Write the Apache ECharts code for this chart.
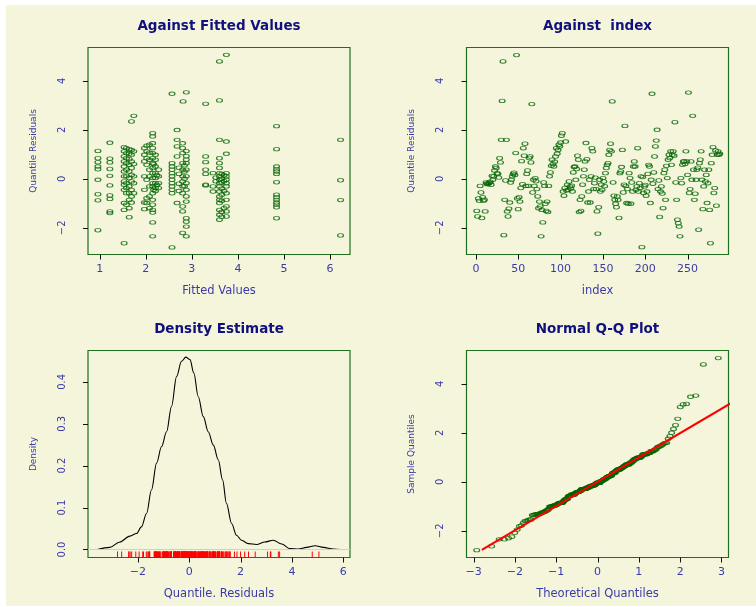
<!DOCTYPE html>
<html><head><meta charset="utf-8">
<script src="https://cdn.jsdelivr.net/npm/echarts@6/dist/echarts.min.js"></script>
<style>
html,body{margin:0;padding:0;background:#ffffff;}
#bg{position:absolute;left:6px;top:5px;width:750px;height:601px;background:#F5F5DC;}
#chart{position:absolute;left:0;top:0;width:756px;height:607px;}
</style>
</head><body><div id="bg"></div><div id="chart"></div>
<script>
// ---------------- data ----------------
// quantile residuals in index order
const residuals = [
-1.31,-1.54,-0.80,-0.90,-0.29,-0.56,-1.60,-0.75,-0.90,-0.85,
-1.33,-0.15,-0.20,-0.22,-0.18,-0.16,-0.12,
-0.24,0.12,-0.04,0.10,0.34,0.50,0.44,0.23,0.20,0.05,
0.84,0.67,1.59,3.18,4.79,-2.30,-0.86,-0.07,1.59,-1.33,-1.54,-1.22,-0.97,-0.15,-0.04,0.10,0.20,0.25,
0.16,1.05,5.05,-0.80,-1.24,-0.75,-0.93,-0.38,0.72,-0.22,1.25,0.94,1.43,-0.29,0.20,0.34,-0.29,0.85,
0.91,0.67,3.05,-0.56,-0.04,-0.29,0.03,-0.10,
-0.42,-0.72,-1.20,-0.93,-1.13,-2.35,-1.27,-1.78,-0.15,-0.29,-1.02,-1.31,-0.93,-1.36,-0.29,0.10,0.26,0.53,0.78,0.60,0.50,0.70,
0.91,1.25,1.02,1.18,1.39,1.32,1.48,1.76,1.86,-0.52,-0.69,-0.38,1.52,-0.48,-0.24,-0.45,-0.11,-0.31,-0.40,-0.28,
-0.52,0.26,0.48,0.50,-0.04,0.40,
0.94,0.78,-1.36,-0.86,-1.31,-0.72,-0.24,0.10,0.37,0.71,1.46,0.80,-0.97,-0.52,-0.04,-0.97,0.10,1.25,1.12,-0.42,-0.18,0.05,-0.42,-1.33,-2.24,-1.16,-0.04,-0.52,-0.24,-0.45,0.03,-0.11,-0.30,
0.23,0.44,0.57,0.64,0.98,1.18,1.43,1.12,3.16,-0.15,-0.69,-0.86,-1.02,-1.16,-0.72,-0.86,-1.60,0.23,0.30,0.48,1.18,-0.56,-0.24,2.16,-0.29,-0.99,-0.42,-1.02,0.23,0.03,-1.02,-0.15,-0.52,0.50,0.71,0.50,-0.45,
-0.31,1.25,-0.52,-0.18,-0.38,0.10,-2.79,0.07,-0.58,-0.31,-0.25,
-0.69,-0.52,0.20,0.57,0.50,-0.99,-0.04,3.47,-0.20,0.26,0.91,1.32,1.56,2.00,-0.42,-0.07,-1.56,-0.52,-0.31,-0.60,
-1.20,0.23,0.37,-0.86,0.53,0.03,0.78,0.98,0.85,
1.12,0.57,0.98,1.12,0.94,2.31,-0.15,-0.86,-1.67,-1.81,-1.95,-2.35,0.03,-0.18,0.57,0.71,0.71,0.60,
1.12,0.71,0.16,3.52,-0.58,-0.42,0.71,-0.04,2.57,0.37,-0.86,-0.61,-0.04,0.37,0.45,
-2.08,0.64,0.78,1.12,-0.04,-1.24,-0.31,0.37,-0.11,0.16,-0.99,-0.18,0.37,-1.27,-2.63,0.64,0.98,1.29,-0.58,-0.38,1.16,-1.10,0.98,1.12,0.98,1.02
];

// residuals against fitted values, grouped by fitted value
const fitLevels = [0.96, 1.22, 1.53, 1.58, 1.64, 1.69, 1.74, 1.97, 2.02, 2.08, 2.15, 2.21, 2.28, 2.17, 2.24,
  2.57, 2.68, 2.72, 2.81, 2.80, 2.84, 2.88, 3.30, 3.46, 3.52, 3.60, 3.65, 3.70, 3.75, 4.84, 6.23];
const fitGroups = [
  [1.14,0.84,0.68,0.50,0.39,-0.04,-0.63,-0.88,-2.10],
  [1.47,0.82,0.67,0.40,0.12,-0.27,-0.68,-0.82,-1.33,-1.40],
  [1.29,1.12,0.91,0.71,0.50,0.30,0.10,-0.11,-0.24,-0.45,-0.99,-1.27,-2.63],
  [1.25,1.05,0.84,0.64,0.37,0.10,-0.18,-0.38,-0.59,-1.06],
  [1.21,1.02,0.80,0.57,0.30,0.03,-0.31,-0.59,-0.86,-1.20,-1.57],
  [2.34,1.18,0.98,0.71,0.44,0.16,-0.11,-0.45,-0.72,-0.97],
  [2.57,1.12,0.60,0.10,-0.18,-0.59],
  [1.25,0.98,0.71,0.10,-0.45,-0.97,-1.24],
  [1.35,1.12,0.84,0.57,-0.04,-0.79,-0.99],
  [1.39,1.07,0.78,0.37,0.10,-0.31,-0.72,-1.20],
  [1.86,1.73,1.45,1.25,1.05,0.84,0.64,0.44,0.23,0.03,-0.18,-0.31,-0.59,-0.86,-1.06,-1.27,-1.38,-1.78,-2.35],
  [0.98,0.78,0.50,0.23,0.03,-0.18,-0.38,-0.50],
  [0.37,0.10,-0.18,-0.38],
  [-0.45,0.60],
  [0.15,-0.25],
  [3.47,0.64,0.50,0.37,0.23,0.10,-0.04,-0.18,-0.31,-0.45,-0.59,-2.80],
  [1.99,1.59,1.32,0.91,-0.99],
  [0.20,-0.20,0.45,-0.50],
  [3.16],
  [1.45,1.25,1.05,0.64,0.37,0.10,-0.11,-0.31,-0.59,-1.13,-1.33,-2.21],
  [0.00,0.30,-0.30,0.55],
  [3.53,1.13,0.92,0.78,0.64,0.37,0.10,-0.18,-0.45,-0.72,-0.93,-1.61,-1.75,-1.95,-2.35],
  [3.06,0.91,0.68,0.37,0.20,-0.24,-0.27],
  [0.23,-0.31,-0.52],
  [0.05,-0.10],
  [4.79,3.20,1.59,0.84,0.64,0.44,0.23,0.10,-0.04,-0.18,-0.31,-0.52,-0.72,-0.86,-0.99,-1.27,-1.47,-1.67],
  [0.20,0.00,-0.15,-0.40,-0.65,-0.90,-1.35,-1.55],
  [0.15,-0.10,-0.50,-1.20],
  [5.06,1.52,1.02,0.23,0.10,-0.04,-0.18,-0.31,-0.59,-0.86,-1.13,-1.33,-1.54],
  [2.15,1.21,0.50,0.39,0.30,0.20,-0.14,-0.65,-0.75,-0.86,-0.97,-1.06,-1.16,-1.61],
  [1.59,-0.06,-0.87,-2.31]
];

// kernel density estimate curve
const densX = [-3.58,-3.09,-2.70,-2.31,-2.05,-1.86,-1.66,-1.47,-1.27,-1.08,-0.88,-0.69,-0.49,-0.30,-0.13,0.03,0.18,0.35,0.55,0.74,0.94,1.13,1.30,1.45,1.65,1.84,2.04,2.30,2.62,2.95,3.27,3.60,3.92,4.25,4.57,4.90,5.22,5.61,5.87];
const densY = [0.000,0.005,0.018,0.032,0.038,0.054,0.086,0.142,0.206,0.245,0.281,0.341,0.413,0.449,0.459,0.453,0.421,0.365,0.317,0.281,0.249,0.214,0.166,0.110,0.062,0.034,0.022,0.014,0.012,0.018,0.022,0.013,0.002,0.001,0.005,0.009,0.005,0.001,0.000];

// reference line of the Q-Q plot (end points)
const qqLineX = [-2.80, 3.30];
const qqLineY = [-2.78, 3.28];

// tick labels
const ticksFit = [1,2,3,4,5,6];
const ticksIdx = [0,50,100,150,200,250];
const ticksRes = [-2,0,2,4];
const ticksDensX = [-2,0,2,4,6];
const ticksDensY = [0,0.1,0.2,0.3,0.4];
const ticksTheo = [-3,-2,-1,0,1,2,3];

// ---------------- helpers ----------------
function qnorm(p){
  const a=[-3.969683028665376e+01,2.209460984245205e+02,-2.759285104469687e+02,1.383577518672690e+02,-3.066479806614716e+01,2.506628277459239e+00];
  const b=[-5.447609879822406e+01,1.615858368580409e+02,-1.556989798598866e+02,6.680131188771972e+01,-1.328068155288572e+01];
  const c=[-7.784894002430293e-03,-3.223964580411365e-01,-2.400758277161838e+00,-2.549732539343734e+00,4.374664141464968e+00,2.938163982698783e+00];
  const d=[7.784695709041462e-03,3.224671290700398e-01,2.445134137142996e+00,3.754408661907416e+00];
  const pl=0.02425, ph=1-pl; let q, r;
  if(p<pl){q=Math.sqrt(-2*Math.log(p));return (((((c[0]*q+c[1])*q+c[2])*q+c[3])*q+c[4])*q+c[5])/((((d[0]*q+d[1])*q+d[2])*q+d[3])*q+1);}
  if(p>ph){q=Math.sqrt(-2*Math.log(1-p));return -(((((c[0]*q+c[1])*q+c[2])*q+c[3])*q+c[4])*q+c[5])/((((d[0]*q+d[1])*q+d[2])*q+d[3])*q+1);}
  q=p-0.5; r=q*q;
  return (((((a[0]*r+a[1])*r+a[2])*r+a[3])*r+a[4])*r+a[5])*q/(((((b[0]*r+b[1])*r+b[2])*r+b[3])*r+b[4])*r+1);
}
const N = residuals.length;
const idxData = residuals.map((r,i)=>[i+1, r]);
const fitData = [];
fitLevels.forEach((x,g)=>fitGroups[g].forEach(r=>fitData.push([x, r])));
const sorted = residuals.slice().sort((a,b)=>a-b);
const aPP = N <= 10 ? 3/8 : 0.5;
const qqData = sorted.map((r,i)=>[qnorm((i+1-aPP)/(N+1-2*aPP)), r]);
const densData = densX.map((x,i)=>[x, densY[i]]);
const rugData = residuals.map(r=>[r, 0]);
const qqLine = qqLineX.map((x,i)=>[x, qqLineY[i]]);

const NAVY='#10107e', BLUE='#3a3aa8', BOX='#1f6f1f', PT='#006400', TICK='#111111';
const FONT='DejaVu Sans';
const fmtMinus = v => String(v).replace('-', '\u2212');
const fmt1 = v => v.toFixed(1);
const ELLIPSE = 'path://M0,5A5,5,0,1,1,10,5A5,5,0,1,1,0,5Z';
const AXLINE = {show:false, onZero:false};

const RES_MIN=-3.09, RES_MAX=5.36;
const DENS_MIN=-0.0191, DENS_MAX=0.4748;
const X_LIM = [[0.745, 6.435], [-11.1, 298.3], [-3.94, 6.26], [-3.17, 3.17]];
const Y_LIM = [[RES_MIN, RES_MAX], [RES_MIN, RES_MAX], [DENS_MIN, DENS_MAX], [RES_MIN, RES_MAX]];

function xAxis(gi, ticks, name, fmt){
  return {type:'value', gridIndex:gi, position:'bottom', min:X_LIM[gi][0], max:X_LIM[gi][1], name, nameLocation:'middle', nameGap:31,
    nameTextStyle:{color:BLUE, fontFamily:FONT, fontSize:11.5},
    splitLine:{show:false}, axisLine:AXLINE, axisTick:{show:false},
    axisLabel:{show:true, customValues:ticks, formatter:fmt, color:BLUE, fontFamily:FONT, fontSize:11, margin:9}};
}
function yAxis(gi, ticks, name, fmt){
  return {type:'value', gridIndex:gi, position:'left', min:Y_LIM[gi][0], max:Y_LIM[gi][1], name, nameLocation:'middle', nameGap:50, nameRotate:90,
    nameTextStyle:{color:BLUE, fontFamily:FONT, fontSize:9},
    splitLine:{show:false}, axisLine:AXLINE, axisTick:{show:false},
    axisLabel:{show:true, customValues:ticks, formatter:fmt, rotate:90, color:BLUE, fontFamily:FONT, fontSize:10, margin:21}};
}
function pts(gi, data){
  return {type:'scatter', xAxisIndex:gi, yAxisIndex:gi, data, symbol:ELLIPSE, symbolSize:[5.8,3.6],
    itemStyle:{color:'rgba(0,0,0,0)', borderColor:PT, borderWidth:1}, silent:true, animation:false};
}
function ttl(text, x, y){
  return {text, left:x, top:y, textAlign:'center', padding:0,
    textStyle:{color:NAVY, fontFamily:FONT, fontWeight:'bold', fontSize:13.5}};
}

const grids = [
  {left:88, top:47.5, width:262, height:207},
  {left:466.5, top:47.5, width:262, height:207},
  {left:88, top:350.5, width:262, height:207},
  {left:466.5, top:350.5, width:262, height:207}
].map(g=>Object.assign({show:true, borderColor:BOX, borderWidth:1.2, backgroundColor:'transparent', containLabel:false}, g));

const option = {
  backgroundColor:'transparent',
  animation:false,
  title:[
    ttl('Against Fitted Values', 219, 19),
    ttl('Against  index', 597.5, 19),
    ttl('Density Estimate', 219, 322),
    ttl('Normal Q-Q Plot', 597.5, 322)
  ],
  grid: grids,
  xAxis:[
    xAxis(0, ticksFit, 'Fitted Values', fmtMinus),
    xAxis(1, ticksIdx, 'index', fmtMinus),
    xAxis(2, ticksDensX, 'Quantile. Residuals', fmtMinus),
    xAxis(3, ticksTheo, 'Theoretical Quantiles', fmtMinus)
  ],
  yAxis:[
    yAxis(0, ticksRes, 'Quantile Residuals', fmtMinus),
    yAxis(1, ticksRes, 'Quantile Residuals', fmtMinus),
    yAxis(2, ticksDensY, 'Density', fmt1),
    yAxis(3, ticksRes, 'Sample Quantiles', fmtMinus)
  ],
  series:[
    pts(0, fitData),
    pts(1, idxData),
    {type:'line', xAxisIndex:2, yAxisIndex:2, data:densData, showSymbol:false, smooth:0.35, smoothMonotone:'x',
      lineStyle:{color:'#000000', width:1.1}, silent:true, animation:false, z:3,
      markLine:{silent:true, symbol:['none','none'], label:{show:false}, animation:false,
        lineStyle:{color:'#cfcfcf', type:'solid', width:1.2}, data:[{yAxis:0}]}},
    {type:'custom', xAxisIndex:2, yAxisIndex:2, data:rugData, encode:{x:0, y:1}, silent:true, animation:false, z:4,
      renderItem:(params, api)=>{
        const p = api.coord([api.value(0), DENS_MIN]);
        return {type:'line', shape:{x1:p[0], y1:p[1], x2:p[0], y2:p[1]-6}, style:{stroke:'#ff0000', lineWidth:1}};
      }},
    pts(3, qqData),
    {type:'line', xAxisIndex:3, yAxisIndex:3, data:qqLine, showSymbol:false, clip:true,
      lineStyle:{color:'#ff0000', width:2}, silent:true, animation:false, z:5}
  ]
};
const chart = echarts.init(document.getElementById('chart'), null, {renderer:'canvas'});
chart.setOption(option);

// outward tick marks (R style), positioned through the axis scales
const tickSets = [[ticksFit, ticksRes], [ticksIdx, ticksRes], [ticksDensX, ticksDensY], [ticksTheo, ticksRes]];
const tickLines = [];
tickSets.forEach((pair, gi) => {
  pair[0].forEach(v => {
    const p = chart.convertToPixel({gridIndex: gi}, [v, Y_LIM[gi][0]]);
    tickLines.push({type:'line', silent:true, z:100,
      shape:{x1:Math.round(p[0])+0.5, y1:p[1], x2:Math.round(p[0])+0.5, y2:p[1]+5}, style:{stroke:TICK, lineWidth:1}});
  });
  pair[1].forEach(v => {
    const p = chart.convertToPixel({gridIndex: gi}, [X_LIM[gi][0], v]);
    tickLines.push({type:'line', silent:true, z:100,
      shape:{x1:p[0], y1:Math.round(p[1])+0.5, x2:p[0]-5, y2:Math.round(p[1])+0.5}, style:{stroke:TICK, lineWidth:1}});
  });
});
chart.setOption({graphic: tickLines});
</script></body></html>
